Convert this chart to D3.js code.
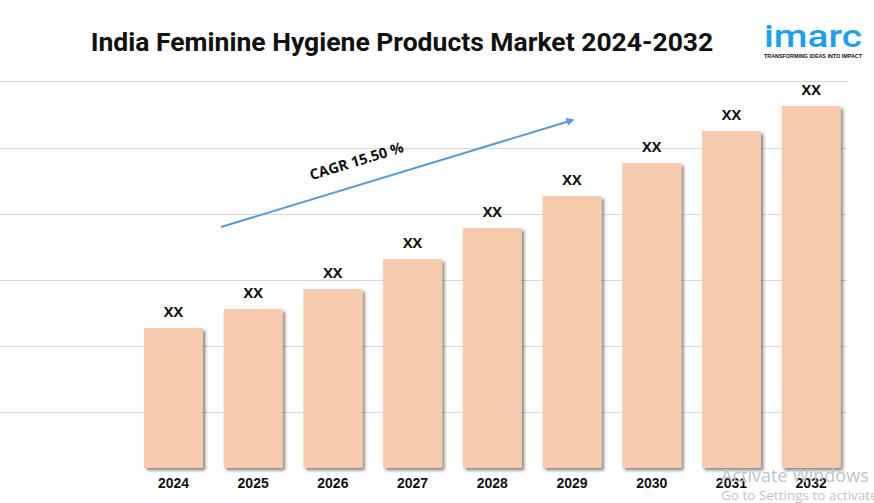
<!DOCTYPE html>
<html lang="en">
<head>
    <meta charset="UTF-8">
    <title>India Feminine Hygiene Products Market 2024-2032</title>
    <script src="https://d3js.org/d3.v7.min.js"></script>
    <style>
        body { margin: 0; background: #fff; }
        svg { display: block; font-family: "Open Sans", "Liberation Sans", Arial, sans-serif; }
        .grid line { stroke: #d9d9d9; stroke-width: 1; }
        .bar-label { font-size: 14.5px; font-weight: 700; fill: #111; }
        .year-label { font-size: 14px; font-weight: 700; fill: #111; }
    </style>
</head>
<body>
    <div id="chart"></div>
    <script>
        // Chart data (labels are "XX" in the source)
        const years = ['2024', '2025', '2026', '2027', '2028', '2029', '2030', '2031', '2032'];
        const values = [14.0, 15.9, 17.9, 20.9, 24.0, 27.2, 30.5, 33.7, 36.2];
        const barLabels = ['XX', 'XX', 'XX', 'XX', 'XX', 'XX', 'XX', 'XX', 'XX'];
        const gridValues = [5.6, 12.2, 18.8, 25.4, 32.0, 38.7];
        const cagrText = 'CAGR 15.50 %';

        const width = 874, height = 503;

        const svg = d3.select('#chart')
            .append('svg')
            .attr('width', width)
            .attr('height', height);

        const defs = svg.append('defs');
        defs.append('filter')
            .attr('id', 'shadow')
            .attr('x', '-10%').attr('y', '-10%')
            .attr('width', '130%').attr('height', '130%')
            .append('feDropShadow')
            .attr('dx', 2.5).attr('dy', 2.5)
            .attr('stdDeviation', 1.5)
            .attr('flood-color', '#000')
            .attr('flood-opacity', 0.45);

        defs.append('marker')
            .attr('id', 'arrow')
            .attr('viewBox', '0 0 10 10')
            .attr('refX', 8).attr('refY', 5)
            .attr('markerWidth', 4).attr('markerHeight', 4)
            .attr('orient', 'auto')
            .append('path')
            .attr('d', 'M0,0 L10,5 L0,10 z')
            .attr('fill', '#5b9bd5');

        const x = d3.scaleBand()
            .domain(years)
            .range([133.6, 851])
            .paddingInner(0.26)
            .paddingOuter(0.13);

        const y = d3.scaleLinear()
            .domain([0, 40])
            .range([468, 68]);

        // Gridlines
        svg.append('g')
            .attr('class', 'grid')
            .selectAll('line')
            .data(gridValues)
            .enter().append('line')
            .attr('x1', 0)
            .attr('x2', 847)
            .attr('y1', d => Math.round(y(d)) + 0.5)
            .attr('y2', d => Math.round(y(d)) + 0.5);

        // Bars
        svg.selectAll('.bar')
            .data(values)
            .enter().append('rect')
            .attr('class', 'bar')
            .attr('x', (d, i) => x(years[i]))
            .attr('width', x.bandwidth())
            .attr('y', d => y(d))
            .attr('height', d => y(0) - y(d))
            .attr('fill', '#f8cbad')
            .attr('filter', 'url(#shadow)');

        // Value labels
        svg.selectAll('.bar-label')
            .data(values)
            .enter().append('text')
            .attr('class', 'bar-label')
            .attr('x', (d, i) => x(years[i]) + x.bandwidth() / 2)
            .attr('y', d => y(d) - 11)
            .attr('text-anchor', 'middle')
            .text((d, i) => barLabels[i]);

        // Year labels
        svg.append('g')
            .attr('transform', `translate(0,${y(0)})`)
            .call(d3.axisBottom(x).tickSize(0).tickPadding(10))
            .call(g => g.select('.domain').remove())
            .selectAll('text')
            .attr('class', 'year-label')
            .attr('font-size', null)
            .attr('font-family', null);

        // CAGR arrow
        svg.append('line')
            .attr('x1', 221).attr('y1', 227)
            .attr('x2', 573).attr('y2', 120)
            .attr('stroke', '#5b9bd5')
            .attr('stroke-width', 2)
            .attr('marker-end', 'url(#arrow)');

        svg.append('text')
            .attr('transform', 'translate(358,166) rotate(-17)')
            .attr('text-anchor', 'middle')
            .attr('font-size', 14.5)
            .attr('font-weight', 700)
            .attr('fill', '#111')
            .text(cagrText);

        // Title
        svg.append('text')
            .attr('x', 402)
            .attr('y', 51)
            .attr('text-anchor', 'middle')
            .attr('font-family', 'Roboto, "Liberation Sans", Arial, sans-serif')
            .attr('font-size', 26.5)
            .attr('font-weight', 700)
            .attr('fill', '#111')
            .text('India Feminine Hygiene Products Market 2024-2032');

        // Logo
        const logo = svg.append('g').attr('transform', 'translate(764,0)');
        logo.append('text')
            .attr('x', 0).attr('y', 47)
            .attr('font-family', 'Roboto, "Liberation Sans", Arial, sans-serif')
            .attr('font-size', 32)
            .attr('font-weight', 500)
            .attr('fill', '#1e9fee')
            .attr('textLength', 98)
            .attr('lengthAdjust', 'spacingAndGlyphs')
            .text('imarc');
        logo.append('text')
            .attr('x', 0).attr('y', 58)
            .attr('font-family', '"Liberation Sans", Arial, sans-serif')
            .attr('font-size', 5.5)
            .attr('font-weight', 700)
            .attr('fill', '#111')
            .attr('textLength', 98)
            .attr('lengthAdjust', 'spacingAndGlyphs')
            .text('TRANSFORMING IDEAS INTO IMPACT');

        // Windows watermark seen in the source picture
        svg.append('text')
            .attr('x', 721).attr('y', 482)
            .attr('font-family', '"Open Sans", sans-serif')
            .attr('font-size', 18)
            .attr('fill', '#c4c4c4')
            .text('Activate Windows');
        svg.append('text')
            .attr('x', 721).attr('y', 500)
            .attr('font-family', '"Open Sans", sans-serif')
            .attr('font-size', 13.5)
            .attr('fill', '#c4c4c4')
            .text('Go to Settings to activate');
    </script>
</body>
</html>
